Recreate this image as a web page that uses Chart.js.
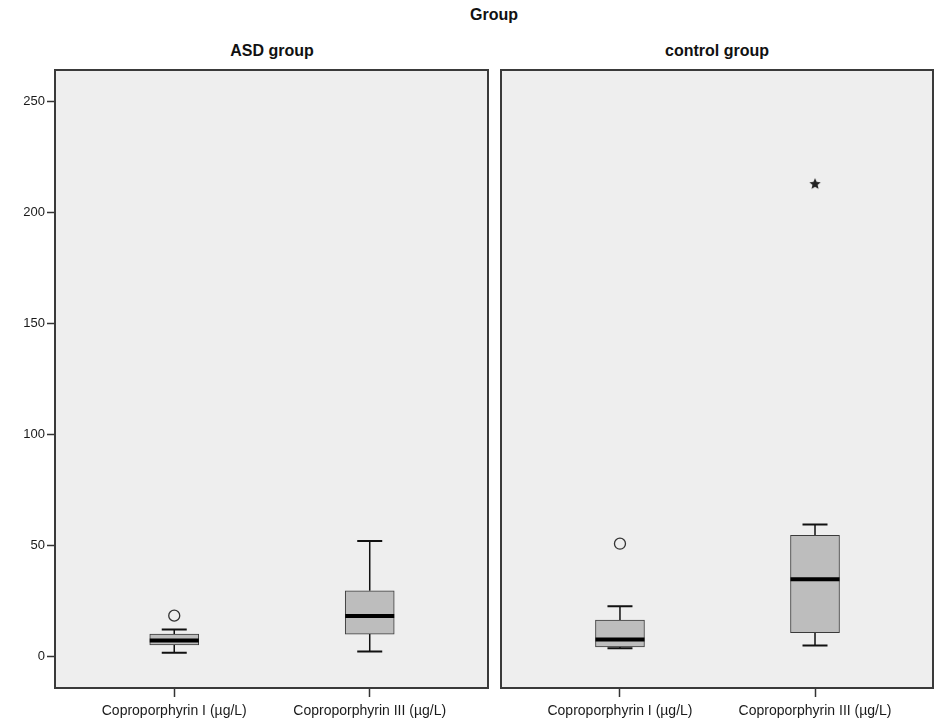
<!DOCTYPE html>
<html>
<head>
<meta charset="utf-8">
<script src="https://cdn.jsdelivr.net/npm/chart.js@4.4.1/dist/chart.umd.min.js"></script>
<style>
  body { margin: 0; background: #fff; width: 934px; height: 722px; position: relative; overflow: hidden;
         font-family: 'Liberation Sans', Arial, sans-serif; }
  .ttl { position: absolute; font-weight: bold; font-size: 16px; color: #111; white-space: nowrap;
         transform: translateX(-50%); line-height: 18px; }
  canvas { position: absolute; top: 0; }
</style>
</head>
<body>
<div class="ttl" style="left:494px; top:6px">Group</div>
<div class="ttl" style="left:272px; top:42px">ASD group</div>
<div class="ttl" style="left:717px; top:42px">control group</div>
<canvas id="c1" width="490" height="722" style="left:0"></canvas>
<canvas id="c2" width="444" height="722" style="left:490px"></canvas>
<script>
/* ── data ── */
const categories = ['Coproporphyrin I (µg/L)', 'Coproporphyrin III (µg/L)'];
const yTicks = [0, 50, 100, 150, 200, 250];

const asdMin = [1.8, 2.3];
const asdQ1 = [5.3, 10.2];
const asdMedian = [7.3, 18.3];
const asdQ3 = [10.2, 29.7];
const asdMax = [12.3, 52.1];
const asdOutliers = [[18.5], []];
const asdExtremes = [[], []];

const ctrlMin = [3.8, 5.0];
const ctrlQ1 = [4.4, 10.8];
const ctrlMedian = [7.8, 34.9];
const ctrlQ3 = [16.5, 54.7];
const ctrlMax = [22.7, 59.6];
const ctrlOutliers = [[50.9], []];
const ctrlExtremes = [[], [212.9]];

const PANEL_BG = '#eeeeee', FRAME = '#3a3a3a', BOX_FILL = '#bdbdbd', INK = '#1a1a1a';

Chart.defaults.font.family = "'Liberation Sans', Arial, sans-serif";
Chart.defaults.color = INK;

/* filled 5-point star for extreme values */
function starImage(r) {
  const c = document.createElement('canvas');
  c.width = c.height = 2 * r + 2;
  const g = c.getContext('2d');
  g.translate(r + 1, r + 1);
  g.beginPath();
  for (let k = 0; k < 10; k++) {
    const a = -Math.PI / 2 + k * Math.PI / 5, rr = k % 2 ? r * 0.45 : r;
    g.lineTo(rr * Math.cos(a), rr * Math.sin(a));
  }
  g.closePath(); g.fillStyle = '#222'; g.fill();
  return c;
}

function flatPoints(lists) {
  const pts = [];
  lists.forEach((vals, i) => vals.forEach(v => pts.push({ x: i, y: v })));
  return pts;
}

function boxPlugin(s) {
  return {
    id: 'boxparts',
    beforeDraw(chart) {
      const a = chart.chartArea, ctx = chart.ctx;
      ctx.save(); ctx.fillStyle = PANEL_BG;
      ctx.fillRect(a.left, a.top, a.right - a.left, a.bottom - a.top); ctx.restore();
    },
    beforeDatasetsDraw(chart) {
      const x = chart.scales.x, y = chart.scales.y, ctx = chart.ctx;
      ctx.save(); ctx.strokeStyle = '#111';
      categories.forEach((_, i) => {
        const px = x.getPixelForValue(i);
        ctx.lineWidth = 1.5;
        ctx.beginPath();
        ctx.moveTo(px, y.getPixelForValue(s.q3[i])); ctx.lineTo(px, y.getPixelForValue(s.max[i]));
        ctx.moveTo(px, y.getPixelForValue(s.q1[i])); ctx.lineTo(px, y.getPixelForValue(s.min[i]));
        ctx.stroke();
        ctx.lineWidth = 2;
        ctx.beginPath();
        [s.max[i], s.min[i]].forEach(v => {
          const py = y.getPixelForValue(v);
          ctx.moveTo(px - 12.5, py); ctx.lineTo(px + 12.5, py);
        });
        ctx.stroke();
      });
      ctx.restore();
    },
    afterDatasetsDraw(chart) {
      const x = chart.scales.x, y = chart.scales.y, ctx = chart.ctx;
      ctx.save(); ctx.strokeStyle = '#000'; ctx.lineWidth = 4;
      categories.forEach((_, i) => {
        const px = x.getPixelForValue(i), py = y.getPixelForValue(s.median[i]);
        ctx.beginPath(); ctx.moveTo(px - 24.5, py); ctx.lineTo(px + 24.5, py); ctx.stroke();
      });
      ctx.restore();
    },
    afterDraw(chart) {
      const a = chart.chartArea, ctx = chart.ctx;
      ctx.save(); ctx.strokeStyle = FRAME; ctx.lineWidth = 2;
      ctx.strokeRect(a.left, a.top, a.right - a.left, a.bottom - a.top); ctx.restore();
    }
  };
}

function makePanel(id, s, showY, padding) {
  return new Chart(document.getElementById(id), {
    type: 'bar',
    data: {
      datasets: [
        { data: categories.map((_, i) => ({ x: i, y: [s.q1[i], s.q3[i]] })),
          backgroundColor: BOX_FILL, borderColor: FRAME, borderWidth: 1, borderSkipped: false,
          barThickness: 49 },
        { type: 'scatter', data: flatPoints(s.outliers), pointStyle: 'circle', pointRadius: 5.5,
          backgroundColor: PANEL_BG, borderColor: '#333', borderWidth: 1.3 },
        { type: 'scatter', data: flatPoints(s.extremes), pointStyle: starImage(6), pointRadius: 6 }
      ]
    },
    options: {
      responsive: false, animation: false, events: [],
      layout: { padding, autoPadding: false },
      plugins: { legend: { display: false }, tooltip: { enabled: false } },
      scales: {
        x: { type: 'linear', min: -0.61, max: 1.605, offset: false,
          afterBuildTicks: ax => { ax.ticks = categories.map((_, i) => ({ value: i })); },
          afterFit: ax => { ax.height = 34; ax.paddingLeft = 0; ax.paddingRight = 0; },
          ticks: { callback: v => categories[v], font: { size: 14 },
            maxRotation: 0, autoSkip: false, padding: 6 },
          grid: { offset: false, drawOnChartArea: false, tickLength: 9, tickWidth: 1.5, tickColor: '#333' },
          border: { display: false } },
        y: { type: 'linear', min: -14.1, max: 264.3, display: showY,
          afterBuildTicks: ax => { ax.ticks = yTicks.map(v => ({ value: v })); },
          afterFit: ax => { ax.width = showY ? 55 : 0; },
          ticks: { font: { size: 13 }, padding: 2 },
          grid: { drawOnChartArea: false, tickLength: 8, tickWidth: 1.5, tickColor: '#333' },
          border: { display: false } }
      }
    },
    plugins: [boxPlugin(s)]
  });
}

makePanel('c1', { min: asdMin, q1: asdQ1, median: asdMedian, q3: asdQ3, max: asdMax,
  outliers: asdOutliers, extremes: asdExtremes }, true, { top: 70, right: 2, left: 0, bottom: 0 });
makePanel('c2', { min: ctrlMin, q1: ctrlQ1, median: ctrlMedian, q3: ctrlQ3, max: ctrlMax,
  outliers: ctrlOutliers, extremes: ctrlExtremes }, false, { top: 70, right: 1, left: 11, bottom: 0 });
</script>
</body>
</html>
